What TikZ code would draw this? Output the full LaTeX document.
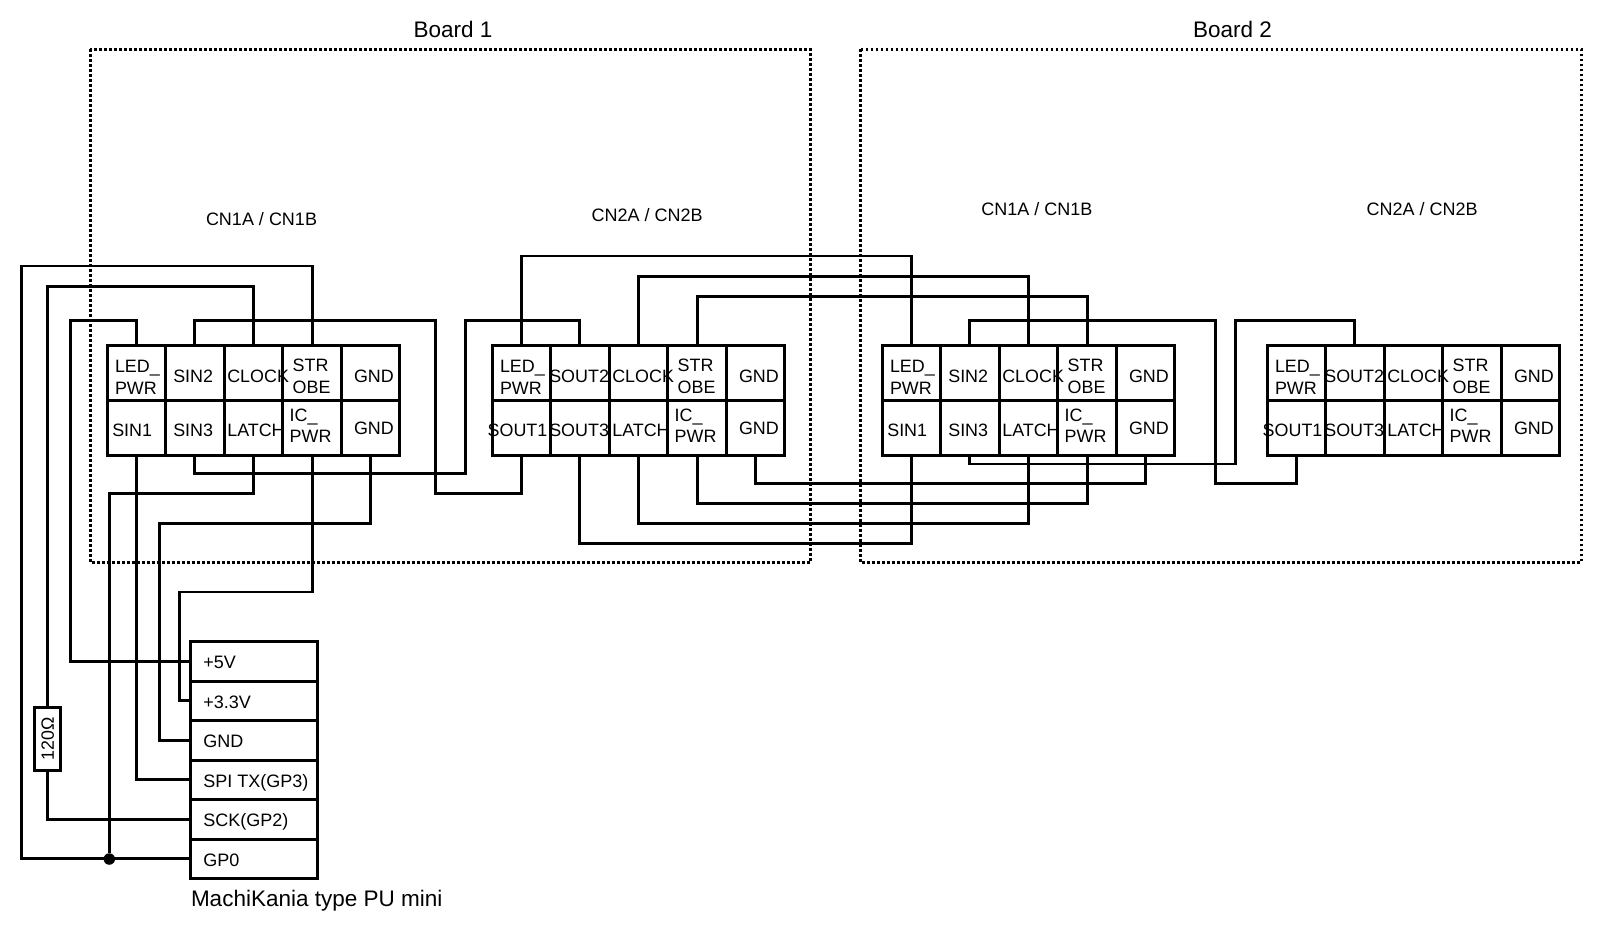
\documentclass[tikz,border=0pt]{standalone}
\usepackage{fontspec}
\setmainfont{Liberation Sans}
\tikzset{
  x=1pt,y=-1pt,
  wire/.style={line width=2.9pt,line join=miter,line cap=butt},
  cellbox/.style={draw,line width=3pt,rectangle,inner sep=0pt,outer sep=0pt},
  celltxt/.style={inner sep=0pt,outer sep=0pt,font=\fontsize{17.9}{21.6}\selectfont},
  frame/.style={line width=2.8pt,dash pattern=on 2.8pt off 2.2pt},
  mktxt/.style={inner sep=0pt,outer sep=0pt,anchor=base west,font=\fontsize{18}{21.6}\selectfont},
  captxt/.style={inner sep=0pt,outer sep=0pt,anchor=base west,font=\fontsize{18}{21.6}\selectfont},
  bigtxt/.style={inner sep=0pt,outer sep=0pt,anchor=base west,font=\fontsize{22.5}{26}\selectfont},
}
% #1 name, #2 x left, #3 y top, #4 width, #5 height
\newcommand{\cellat}[5]{\node[cellbox,minimum width=#4pt,minimum height=#5pt] (#1) at ({#2+#4/2},{#3+#5/2}) {};}
% #1 prefix, #2 offset, #3 top2 text, #4 column-2 text x, #5 bot1 text, #6 bot1 text x, #7 bot2 text
\newcommand{\conn}[7]{%
  \begin{scope}[shift={(#2,0)}]
  \cellat{#1a}{107.3}{345.7}{58}{54.8}
  \cellat{#1b}{165.3}{345.7}{59}{54.8}
  \cellat{#1c}{224.3}{345.7}{58.4}{54.8}
  \cellat{#1d}{282.7}{345.7}{59}{54.8}
  \cellat{#1e}{341.7}{345.7}{57.8}{54.8}
  \cellat{#1f}{107.3}{400.5}{58}{54.8}
  \cellat{#1g}{165.3}{400.5}{59}{54.8}
  \cellat{#1h}{224.3}{400.5}{58.4}{54.8}
  \cellat{#1i}{282.7}{400.5}{59}{54.8}
  \cellat{#1j}{341.7}{400.5}{57.8}{54.8}
  \node[celltxt,align=left,anchor=north west] (#1at) at (115,360.5) {LED\_\\PWR};
  \node[celltxt,anchor=base west] (#1bt) at (#4,382) {#3};
  \node[celltxt,anchor=base west] (#1ct) at (227.3,382) {CLOCK};
  \node[celltxt,align=left,anchor=north west] (#1dt) at (292.7,359) {STR\\OBE};
  \node[celltxt,anchor=base west] (#1et) at (354,382) {GND};
  \node[celltxt,anchor=base west] (#1ft) at (#6,436) {#5};
  \node[celltxt,anchor=base west] (#1gt) at (#4,436) {#7};
  \node[celltxt,anchor=base west] (#1ht) at (227.3,436) {LATCH};
  \node[celltxt,align=left,anchor=north west] (#1it) at (289.7,408.6) {IC\_\\PWR};
  \node[celltxt,anchor=base west] (#1jt) at (354,434) {GND};
  \end{scope}}
\begin{document}
\begin{tikzpicture}
\useasboundingbox (0,0) rectangle (1600,930);
% board frames
\draw[frame] (90.3,49.3) rectangle (810.7,562.3);
\draw[frame] (860.3,49.3) rectangle (1581.3,562.3);
\node[bigtxt] (board1) at (413.5,37.5) {Board 1};
\node[bigtxt] (board2) at (1193,37.5) {Board 2};
\node[captxt] (capa) at (206,225.5) {CN1A / CN1B};
\node[captxt] (capb) at (591.5,221.5) {CN2A / CN2B};
\node[captxt] (capc) at (981.3,215.5) {CN1A / CN1B};
\node[captxt] (capd) at (1366.5,215.5) {CN2A / CN2B};
% connectors
\conn{p}{0}{SIN2}{173.3}{SIN1}{112.3}{SIN3}
\conn{q}{385}{SOUT2}{164.3}{SOUT1}{102.7}{SOUT3}
\conn{r}{775}{SIN2}{173.3}{SIN1}{112.3}{SIN3}
\conn{s}{1160}{SOUT2}{164.3}{SOUT1}{102.7}{SOUT3}
% MachiKania block
\cellat{mka}{190.3}{641.3}{127}{39.7}
\cellat{mkb}{190.3}{681}{127}{39.3}
\cellat{mkc}{190.3}{720.3}{127}{39.7}
\cellat{mkd}{190.3}{760}{127}{39.7}
\cellat{mke}{190.3}{799.7}{127}{39.3}
\cellat{mkf}{190.3}{839}{127}{39.7}
\node[mktxt] (mkat) at (203.3,668) {+5V};
\node[mktxt] (mkbt) at (203.3,708) {+3.3V};
\node[mktxt] (mkct) at (203.3,747) {GND};
\node[mktxt] (mkdt) at (203.3,787) {SPI TX(GP3)};
\node[mktxt] (mket) at (203.3,826) {SCK(GP2)};
\node[mktxt] (mkft) at (203.3,866) {GP0};
\node[bigtxt] (mkname) at (191,906) {MachiKania type PU mini};
% resistor
\node[draw,line width=2.9pt,rectangle,inner sep=0pt,minimum width=26pt,minimum height=63pt,
  label={[rotate=90,inner sep=0pt,font=\fontsize{17.8}{20}\selectfont]center:120Ω}] (res) at (47.7,739) {};
% junction
\node[circle,fill=black,inner sep=0pt,minimum size=11.5pt] (dot) at (109.3,859) {};
% wires: board 1 <-> MachiKania
\draw[wire] (pd.north) |- (21.7,266) |- (mkf.west);
\draw[wire] (pc.north) |- (47.7,286.7) -- (res.north);
\draw[wire] (res.south) |- (mke.west);
\draw[wire] (pa.north) |- (70.3,320.3) |- (mka.west);
\draw[wire] (pf.south) |- (mkd.west);
\draw[wire] (ph.south) |- (109.3,493.3) -- (dot);
\draw[wire] (pj.south) |- (159.3,523.3) |- (mkc.west);
\draw[wire] (pi.south) |- (179.3,592) |- (mkb.west);
% board 1 <-> board 2
\draw[wire] (pb.north) |- (435.7,320.3) |- (qf.south |- 0,493.3) -- (qf.south);
\draw[wire] (pg.south) |- (465.5,473.7) |- (qb.north |- 0,320.3) -- (qb.north);
% board 1 second to board 2 first
\draw[wire] (qa.north) |- (ra.north |- 0,256) -- (ra.north);
\draw[wire] (qc.north) |- (rc.north |- 0,276.3) -- (rc.north);
\draw[wire] (qd.north) |- (rd.north |- 0,296.7) -- (rd.north);
\draw[wire] (qg.south) |- (rf.south |- 0,543.3) -- (rf.south);
\draw[wire] (qh.south) |- (rh.south |- 0,523.3) -- (rh.south);
\draw[wire] (qi.south) |- (ri.south |- 0,503.3) -- (ri.south);
\draw[wire] (qj.south) |- (rj.south |- 0,483.3) -- (rj.south);
% board 2 first to second
\draw[wire] (rb.north) |- (1215.6,320.3) |- (sf.south |- 0,483.3) -- (sf.south);
\draw[wire] (rg.south) |- (1235.4,464) |- (sb.north |- 0,320.3) -- (sb.north);
\end{tikzpicture}
\end{document}
